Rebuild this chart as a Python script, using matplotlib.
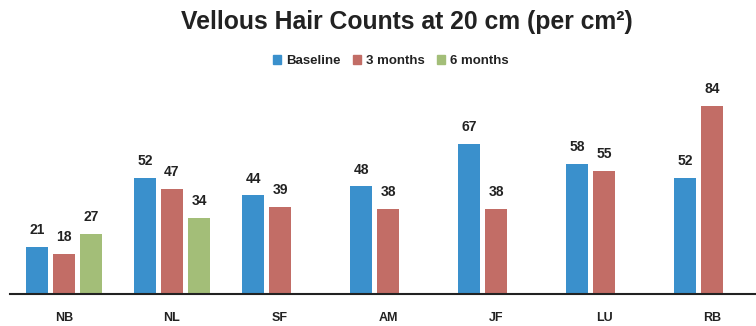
import numpy as np
import matplotlib.pyplot as plt
from matplotlib.patches import Patch

# 各受试者在不同时间点的毳毛计数
subjects = ["NB", "NL", "SF", "AM", "JF", "LU", "RB"]
baseline = [21, 52, 44, 48, 67, 58, 52]
month3 = [18, 47, 39, 38, 38, 55, 84]
month6 = [27, 34, None, None, None, None, None]

series = [("Baseline", baseline, "#3a90cc"),
          ("3 months", month3, "#c26d66"),
          ("6 months", month6, "#a3be78")]

plt.rcParams['font.family'] = ['Liberation Sans', 'DejaVu Sans']
text_color = "#222222"

fig = plt.figure(figsize=(7.56, 3.26), dpi=100)
W, H = 756, 326
# 坐标区: 左端 x=10, 每组 108 像素, 基线在 y=294
ax = fig.add_axes([10 / W, 32 / H, 756 / W, 224 / H])

x = np.arange(len(subjects))
width = 0.205
offsets = [-0.25, 0.0, 0.25]

for (name, vals, color), off in zip(series, offsets):
    for xi, v in zip(x, vals):
        if v is None:
            continue
        ax.bar(xi + off, v, width=width, color=color, zorder=2)
        ax.text(xi + off, v + 4.3, str(v), ha="center", va="bottom",
                fontsize=10, fontweight="bold", color=text_color)

ax.set_xlim(-0.5, len(subjects) - 0.5)
ax.set_ylim(0, 100)
ax.set_xticks(x)
ax.set_xticklabels(subjects, fontsize=9, fontweight="bold", color=text_color)
ax.tick_params(axis="x", length=0, pad=13)
ax.set_yticks([])
for s in ["left", "right", "top"]:
    ax.spines[s].set_visible(False)
ax.spines["bottom"].set_color("#222222")
ax.spines["bottom"].set_linewidth(1.5)
ax.spines["bottom"].set_zorder(3)

fig.text(407 / W, 1 - 22 / H, "Vellous Hair Counts at 20 cm (per cm²)",
         ha="center", va="center", fontsize=17.8, fontweight="bold",
         color=text_color)

handles = [Patch(color=c, label=n) for n, _, c in series]
leg = fig.legend(handles=handles, loc="center", ncol=3,
                 bbox_to_anchor=(391 / W, 1 - 61 / H), frameon=False,
                 handlelength=0.6, handleheight=0.6, handletextpad=0.4,
                 columnspacing=0.9,
                 prop={"size": 9.5, "weight": "bold"})
for t in leg.get_texts():
    t.set_color(text_color)

fig.savefig("out.png", dpi=100)
